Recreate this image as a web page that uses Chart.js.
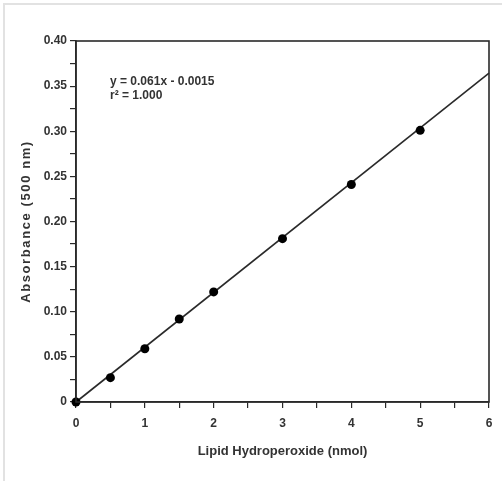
<!DOCTYPE html>
<html>
<head>
<meta charset="utf-8">
<script src="https://cdn.jsdelivr.net/npm/chart.js@4/dist/chart.umd.min.js"></script>
<style>
html,body{margin:0;padding:0;background:#fff;}
#wrap{position:relative;width:502px;height:481px;}
#frame{position:absolute;left:3px;top:3px;right:0;bottom:0;border-top:2px solid #e2e2e2;border-left:2px solid #e2e2e2;}
canvas{position:absolute;left:0;top:0;}
</style>
</head>
<body>
<div id="wrap"><div id="frame"></div><canvas id="c" width="502" height="481"></canvas></div>
<script>
const xValues = [0, 0.5, 1, 1.5, 2, 3, 4, 5];
const yValues = [0, 0.027, 0.059, 0.092, 0.122, 0.181, 0.241, 0.301];
const fitX = [0, 6];
const fitY = [0, 0.3645];
const equationText = ['y = 0.061x - 0.0015', 'r\u00B2 = 1.000'];
const xTitle = 'Lipid Hydroperoxide (nmol)';
const yTitle = 'Absorbance (500 nm)';

const FONT = '"Liberation Sans Narrow", "Arial Narrow", "Liberation Sans", Arial, sans-serif';
const INK = '#2a2a2a';

const framePlugin = {
  id: 'frame',
  afterDatasetsDraw(chart) {
    const {ctx, chartArea: a} = chart;
    ctx.save();
    ctx.strokeStyle = INK;
    ctx.lineWidth = 1.6;
    ctx.strokeRect(a.left, a.top, a.right - a.left, a.bottom - a.top);
    ctx.fillStyle = '#333';
    ctx.font = 'bold 12px ' + FONT;
    ctx.textBaseline = 'middle';
    ctx.fillText(equationText[0], 110, 82);
    ctx.fillText(equationText[1], 110, 96);
    ctx.restore();
    // y axis title with wider letter spacing
    ctx.save();
    ctx.translate(26, (a.top + a.bottom) / 2);
    ctx.rotate(-Math.PI / 2);
    ctx.fillStyle = '#333';
    ctx.font = 'bold 13px ' + FONT;
    ctx.letterSpacing = '1.6px';
    ctx.textAlign = 'center';
    ctx.textBaseline = 'middle';
    ctx.fillText(yTitle, 0, 0);
    ctx.restore();
  }
};

new Chart(document.getElementById('c'), {
  type: 'scatter',
  data: {
    datasets: [
      {
        label: 'fit',
        data: fitX.map((x, i) => ({x, y: fitY[i]})),
        showLine: true,
        borderColor: INK,
        borderWidth: 1.6,
        pointRadius: 0,
        clip: false,
        order: 2
      },
      {
        label: 'data',
        data: xValues.map((x, i) => ({x, y: yValues[i]})),
        backgroundColor: '#000',
        borderColor: '#000',
        pointRadius: 4.5,
        pointBorderWidth: 0,
        clip: false,
        order: 1
      }
    ]
  },
  options: {
    responsive: false,
    animation: false,
    devicePixelRatio: 1,
    layout: {padding: {left: 0, right: 13, top: 41, bottom: 0}},
    plugins: {legend: {display: false}, tooltip: {enabled: false}},
    scales: {
      x: {
        type: 'linear', min: 0, max: 6,
        afterFit(s) { s.height = 79; },
        border: {display: true, color: INK, width: 1.6},
        grid: {drawOnChartArea: false, drawTicks: true, tickLength: 6, color: INK, lineWidth: 1.2},
        ticks: {
          stepSize: 0.5, autoSkip: false, maxRotation: 0, padding: 8,
          color: '#333', font: {family: FONT, size: 12, weight: 'bold'},
          callback: (v, i) => (i % 2 ? '' : String(Math.round(v)))
        },
        title: {display: true, text: xTitle, color: '#333', font: {family: FONT, size: 13, weight: 'bold'}, padding: {top: 0, bottom: 22}}
      },
      y: {
        type: 'linear', min: 0, max: 0.4,
        afterFit(s) { s.width = 76; },
        border: {display: true, color: INK, width: 1.6},
        grid: {drawOnChartArea: false, drawTicks: true, tickLength: 6, color: INK, lineWidth: 1.2},
        ticks: {
          stepSize: 0.025, autoSkip: false, padding: 3,
          color: '#333', font: {family: FONT, size: 12, weight: 'bold'},
          callback: (v, i) => (i % 2 ? '' : (Math.abs(v) < 1e-9 ? '0' : v.toFixed(2)))
        },
        title: {display: false, text: yTitle}
      }
    }
  },
  plugins: [framePlugin]
});
</script>
</body>
</html>
